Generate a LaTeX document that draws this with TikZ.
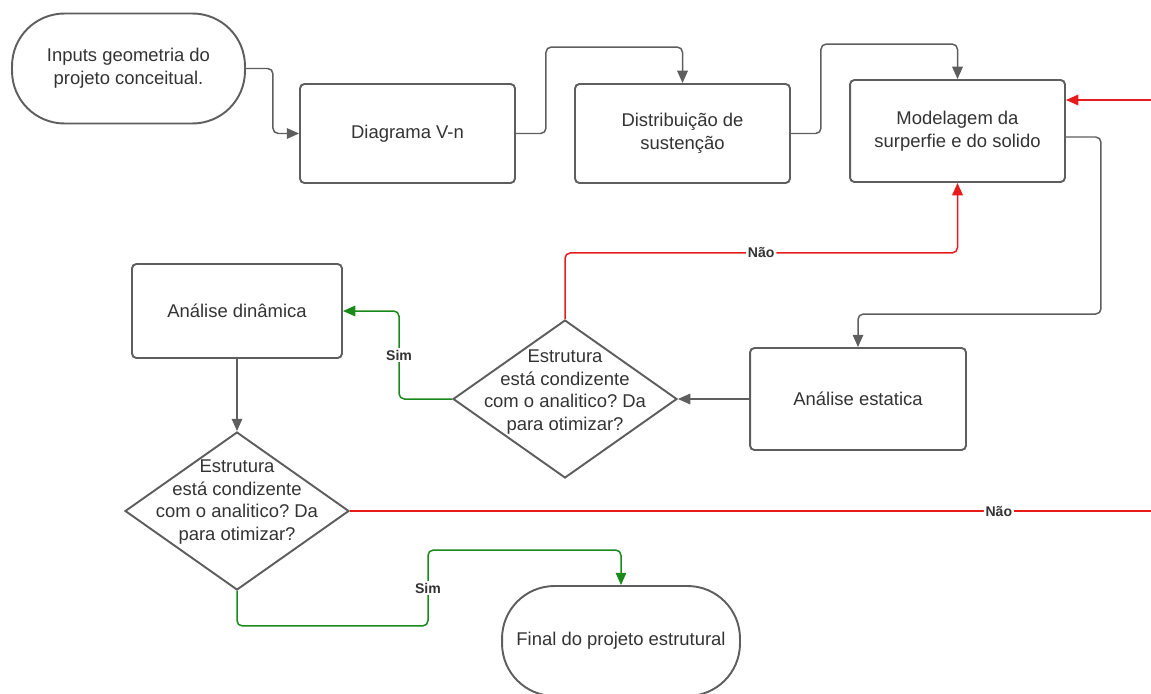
\documentclass[tikz,border=0pt]{standalone}
\usepackage{fontspec}
\setmainfont{Liberation Sans}
\usepackage{tikz}
\usepackage{xcolor}
\usetikzlibrary{shapes,arrows.meta,calc}

\definecolor{linegray}{HTML}{5E5E5E}
\definecolor{textgray}{HTML}{333333}
\definecolor{nored}{HTML}{E81B1B}
\definecolor{simgreen}{HTML}{1A8A1A}

\begin{document}
\begin{tikzpicture}
  [x=0.02cm,y=-0.02cm,
   every node/.style={text=textgray,font=\fontsize{10.5}{13}\selectfont\frenchspacing,align=center},
   box/.style={draw=linegray,line width=1.1pt,rounded corners=2.5pt,minimum width=4.3cm,minimum height=1.98cm},
   term/.style={draw=linegray,line width=1.1pt,rounded corners=1.05cm,minimum height=2.2cm},
   dec/.style={diamond,draw=linegray,line width=1.1pt,minimum width=4.48cm,minimum height=3.16cm,inner sep=0pt},
   flow/.style={draw=linegray,line width=0.85pt,rounded corners=3pt,-{Triangle[length=7pt,width=6pt]}},
   naoflow/.style={flow,draw=nored},
   naoline/.style={flow,draw=nored,-},
   simflow/.style={flow,draw=simgreen},
   lbl/.style={fill=white,inner sep=1pt,font=\bfseries\fontsize{8}{9}\selectfont}]
  \useasboundingbox (0,0) rectangle (1151,693);

  \node[term,minimum width=4.66cm] (inp) at (128.5,68.5) {Inputs geometria do\\projeto conceitual.};
  \node[box] (diag) at (407.5,133.5) {Diagrama V-n};
  \node[box] (dist) at (682.5,133.5) {Distribuição de\\sustenção};
  \node[box,minimum height=2.04cm] (mod) at (957.5,131) {Modelagem da\\surperfie e do solido};
  \node[box,minimum width=4.2cm,minimum height=1.88cm] (din) at (237,311) {Análise dinâmica};
  \node[box,minimum width=4.32cm,minimum height=2.04cm] (est) at (858,399) {Análise estatica};
  \node[dec] (d1) at (565,399) {};
  \node (d1t) at (565,392) {Estrutura\\está condizente\\com o analitico? Da\\para otimizar?};
  \node[dec] (d2) at (237,511) {};
  \node (d2t) at (237,502) {Estrutura\\está condizente\\com o analitico? Da\\para otimizar?};
  \node[term,minimum width=4.76cm] (fin) at (621,641) {Final do projeto estrutural};
  \coordinate (redin) at (1151,100);
  \coordinate (redout) at (1151,511);

  \draw[flow] (inp.east) -- ++(27,0) |- (diag.west);
  \draw[flow] (diag.east) -- ++(30,0) |- ($(dist.north)+(0,-36)$) -- (dist.north);
  \draw[flow] (dist.east) -- ++(30,0) |- ($(mod.north)+(0,-35)$) -- (mod.north);
  \draw[naoflow] (redin) -- (redin -| mod.east);
  \draw[flow] ($(mod.east)+(0,6)$) -- ++(35,0) |- ($(est.north)+(0,-33)$) -- (est.north);
  \draw[flow] (est.west) -- (d1.east);
  \draw[naoflow] (d1.north) |- node[lbl,pos=0.75]{Não} ($(mod.south)+(0,70)$) -- (mod.south);
  \draw[simflow] (d1.west) -- ++(-53,0) |- node[lbl,pos=0.25]{Sim} (din.east);
  \draw[flow] (din.south) -- (d2.north);
  \draw[naoline] (d2.east) -- node[lbl,pos=0.81]{Não} (redout);
  \draw[simflow] (d2.south) -- ++(0,35) -| node[lbl,pos=0.75]{Sim} ($(fin.north)+(-193,-35)$) -- ($(fin.north)+(0,-35)$) -- (fin.north);
\end{tikzpicture}
\end{document}
